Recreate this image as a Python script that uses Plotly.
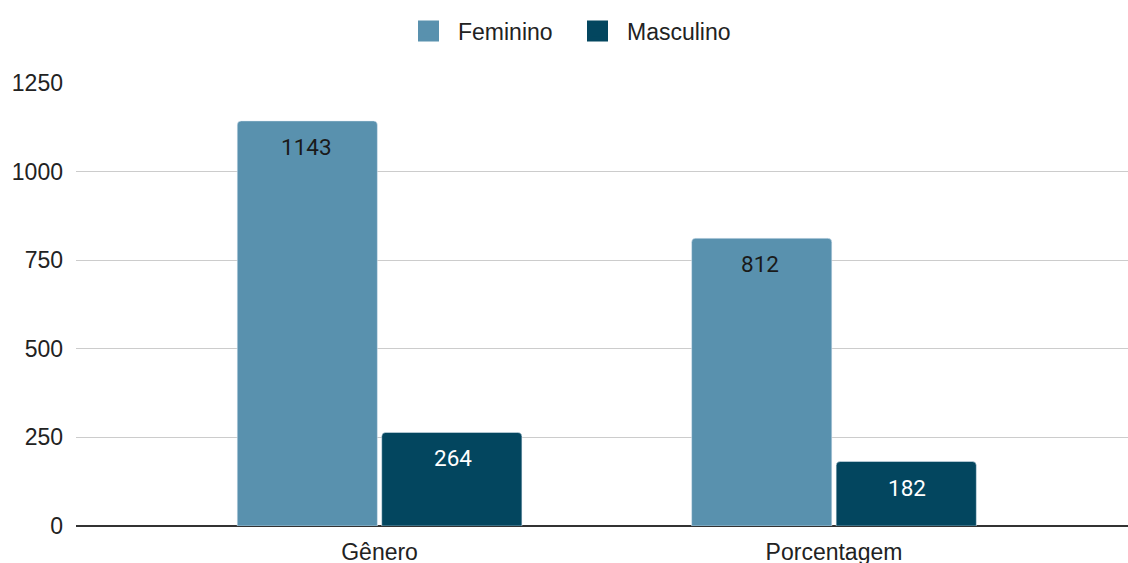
import plotly.graph_objects as go

categories = ["Gênero", "Porcentagem"]
feminino = [1143, 812]
masculino = [264, 182]
y_ticks = [0, 250, 500, 750, 1000, 1250]

COL_F = "#5991AE"
COL_M = "#03465F"

fig = go.Figure()
fig.add_trace(go.Bar(name="Feminino", x=categories, y=feminino,
                     marker=dict(color=COL_F, cornerradius=4), showlegend=False))
fig.add_trace(go.Bar(name="Masculino", x=categories, y=masculino,
                     marker=dict(color=COL_M, cornerradius=4), showlegend=False))

# legend entries with larger square swatches
for name, col in [("Feminino", COL_F), ("Masculino", COL_M)]:
    fig.add_trace(go.Scatter(name=name, x=[None], y=[None], mode="markers",
                             marker=dict(symbol="square", size=16, color=col,
                                         line=dict(color=col, width=5)),
                             showlegend=True))

# value labels inside the bars, near the top
for vals, shift, col in [(feminino, -73.5, "#1a1a1a"), (masculino, 73, "#ffffff")]:
    for cat, v in zip(categories, vals):
        fig.add_annotation(x=cat, y=v, xref="x", yref="y", text=str(v),
                           showarrow=False, xshift=shift, yshift=-26,
                           yanchor="middle",
                           font=dict(family="Roboto", size=22.5, color=col))

fig.update_layout(
    width=1128, height=563,
    margin=dict(l=76, r=0, t=83, b=37),
    paper_bgcolor="white", plot_bgcolor="white",
    barmode="group", bargap=0.364, bargroupgap=0.03,
    font=dict(family="Liberation Sans, Arial", size=23, color="#222222"),
    showlegend=True,
    legend=dict(orientation="h", x=399 / 1128, xanchor="left", xref="container",
                y=1 - 31 / 563, yanchor="middle", yref="container",
                font=dict(family="Liberation Sans, Arial", size=23, color="#222222"),
                itemsizing="trace", itemwidth=49, entrywidth=105),
)
fig.update_xaxes(range=[-0.668, 1.647], showgrid=False, showline=False,
                 ticks="", ticklabelstandoff=10, automargin=False,
                 tickfont=dict(family="Liberation Sans, Arial", size=23, color="#222222"))
fig.update_yaxes(range=[0, 1250], tickvals=y_ticks, showgrid=True,
                 gridcolor="#cccccc", gridwidth=1.3, zeroline=True,
                 zerolinecolor="#333333", zerolinewidth=1.5,
                 ticks="", ticklabelstandoff=12, automargin=False,
                 tickfont=dict(family="Liberation Sans, Arial", size=23, color="#222222"))

fig.write_html("out.html")
